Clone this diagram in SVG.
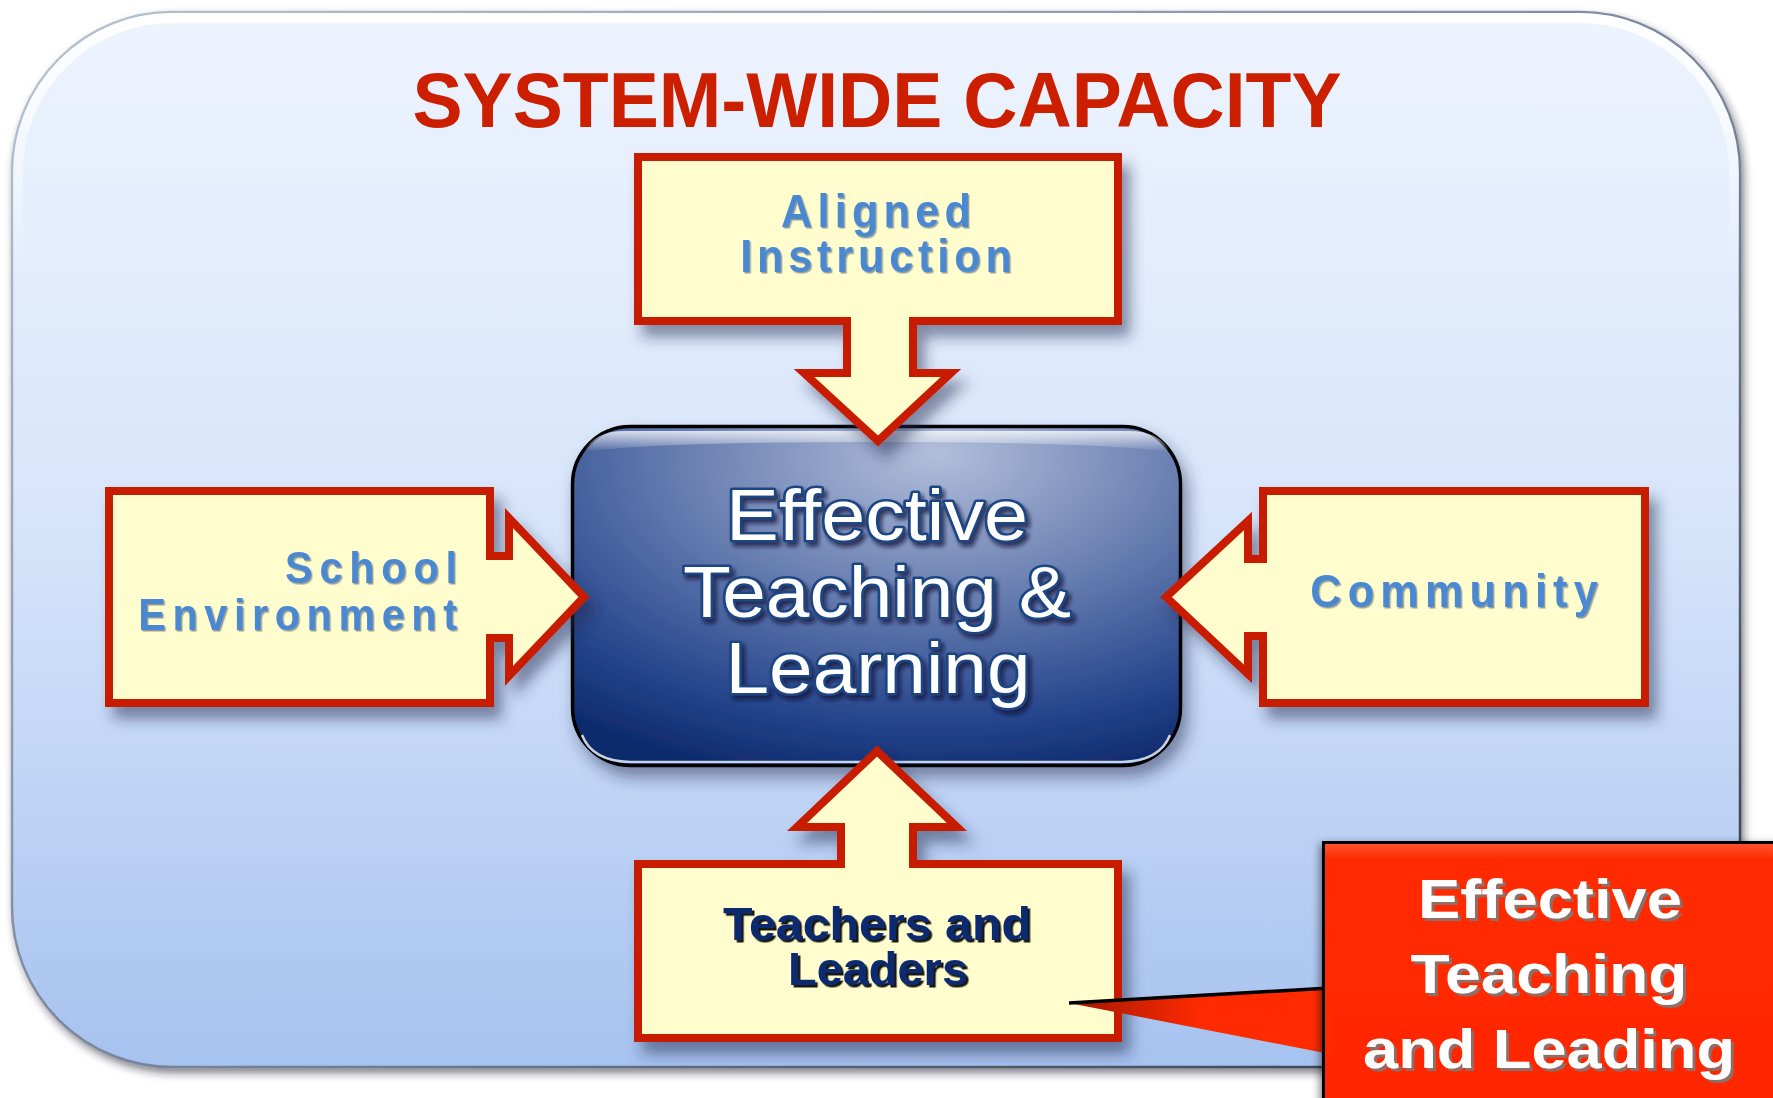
<svg xmlns="http://www.w3.org/2000/svg" width="1773" height="1098" viewBox="0 0 1773 1098">
<defs>
  <linearGradient id="bgGrad" x1="0" y1="0" x2="0" y2="1">
    <stop offset="0" stop-color="#EEF4FE"/>
    <stop offset="0.5" stop-color="#D6E4FA"/>
    <stop offset="1" stop-color="#A6C2EF"/>
  </linearGradient>
  <linearGradient id="hiGrad" x1="0" y1="0" x2="0" y2="1">
    <stop offset="0" stop-color="#FFFFFF" stop-opacity="1"/>
    <stop offset="0.25" stop-color="#FFFFFF" stop-opacity="0"/>
    <stop offset="1" stop-color="#FFFFFF" stop-opacity="0"/>
  </linearGradient>
  <linearGradient id="edgeGrad" x1="0" y1="0" x2="1" y2="1">
    <stop offset="0" stop-color="#B8C2D2"/>
    <stop offset="0.6" stop-color="#6F7C93"/>
    <stop offset="1" stop-color="#2E3440"/>
  </linearGradient>
  <radialGradient id="centerGrad" cx="0.58" cy="0.12" r="0.95" fx="0.6" fy="0.08">
    <stop offset="0" stop-color="#B2BEDA"/>
    <stop offset="0.42" stop-color="#6A80B2"/>
    <stop offset="0.82" stop-color="#22428A"/>
    <stop offset="1" stop-color="#0E2A6C"/>
  </radialGradient>
  <linearGradient id="glossGrad" x1="0" y1="0" x2="0" y2="1">
    <stop offset="0" stop-color="#FFFFFF" stop-opacity="0.9"/>
    <stop offset="1" stop-color="#FFFFFF" stop-opacity="0"/>
  </linearGradient>
  <linearGradient id="redGrad" x1="0" y1="0" x2="0" y2="1">
    <stop offset="0" stop-color="#FF5533"/>
    <stop offset="0.06" stop-color="#FF2C00"/>
    <stop offset="1" stop-color="#FF2600"/>
  </linearGradient>
  <linearGradient id="ptrGrad" x1="0" y1="0" x2="1" y2="0">
    <stop offset="0" stop-color="#A01600"/>
    <stop offset="0.5" stop-color="#FF2A00"/>
    <stop offset="1" stop-color="#FF2A00"/>
  </linearGradient>
  <filter id="outerShadow" x="-5%" y="-5%" width="110%" height="112%">
    <feDropShadow dx="3" dy="5" stdDeviation="4" flood-color="#1A2233" flood-opacity="0.55"/>
  </filter>
  <filter id="boxShadow" x="-10%" y="-10%" width="130%" height="135%">
    <feDropShadow dx="8" dy="12" stdDeviation="7" flood-color="#1C2A4E" flood-opacity="0.5"/>
  </filter>
  <filter id="centerShadow" x="-10%" y="-10%" width="130%" height="130%">
    <feDropShadow dx="6" dy="10" stdDeviation="8" flood-color="#1C2A4E" flood-opacity="0.5"/>
  </filter>
  <filter id="blueTxt" x="-5%" y="-20%" width="110%" height="140%">
    <feDropShadow dx="1.5" dy="1.5" stdDeviation="0.6" flood-color="#2A3A55" flood-opacity="0.5"/>
  </filter>
  <filter id="whiteTxt" x="-5%" y="-20%" width="115%" height="140%">
    <feDropShadow dx="3" dy="4" stdDeviation="2" flood-color="#081838" flood-opacity="0.75"/>
  </filter>
  <filter id="navyTxt" x="-5%" y="-20%" width="110%" height="140%">
    <feDropShadow dx="2.5" dy="2.5" stdDeviation="0.3" flood-color="#000000" flood-opacity="0.9"/>
  </filter>
  <filter id="calloutTxt" x="-5%" y="-20%" width="110%" height="140%">
    <feDropShadow dx="3" dy="3" stdDeviation="0.6" flood-color="#7A7A7A" flood-opacity="0.85"/>
  </filter>
  <filter id="calloutShadow" x="-10%" y="-10%" width="130%" height="130%">
    <feDropShadow dx="-2" dy="3" stdDeviation="4" flood-color="#000000" flood-opacity="0.5"/>
  </filter>
</defs>
<style>
  .box { fill: #FFFCCE; stroke: #C81E00; stroke-width: 8; stroke-linejoin: miter; stroke-miterlimit: 10; filter: url(#boxShadow); }
  .blue { font-family: "Liberation Sans", Arial, sans-serif; font-weight: bold; fill: #4C88D2; filter: url(#blueTxt); }
  .title { font-family: "Liberation Sans Narrow", "Liberation Sans", Arial, sans-serif; font-weight: bold; fill: #CC1F00; font-size: 77px; }
  .ctr { font-family: "Liberation Sans", Arial, sans-serif; font-size: 72px; fill: #FFFFFF; stroke: #1E4584; stroke-width: 5; paint-order: stroke; stroke-linejoin: round; filter: url(#whiteTxt); }
  .navy { font-family: "Liberation Sans Narrow", "Liberation Sans", Arial, sans-serif; font-weight: bold; font-size: 47px; fill: #0A2C70; filter: url(#navyTxt); }
  .call { font-family: "Liberation Sans", Arial, sans-serif; font-weight: bold; font-size: 55px; fill: #FFFFFF; filter: url(#calloutTxt); }
</style>

<g id="background">
  <rect x="12" y="12" width="1728" height="1055" rx="160" ry="160" fill="url(#bgGrad)" stroke="url(#edgeGrad)" stroke-width="2.5" filter="url(#outerShadow)"/>
  <rect x="18" y="18" width="1716" height="1043" rx="154" ry="154" fill="none" stroke="url(#hiGrad)" stroke-width="10"/>
</g>

<g id="title">
  <text class="title" x="877" y="127" text-anchor="middle" textLength="929" lengthAdjust="spacingAndGlyphs">SYSTEM-WIDE CAPACITY</text>
</g>

<g id="center">
  <rect x="572.5" y="426.5" width="608" height="339" rx="58" ry="58" fill="url(#centerGrad)" stroke="#000000" stroke-width="3.5" filter="url(#centerShadow)"/>
  <path d="M625,431 H1128 Q1160,431 1170,452 Q1100,442 876,442 Q650,442 584,452 Q594,431 625,431 Z" fill="url(#glossGrad)" opacity="0.85"/>
  <path d="M582,735 Q592,761 630,762 H1122 Q1160,761 1170,735" fill="none" stroke="#DCE5F3" stroke-width="2.5" opacity="0.9"/>
  <text class="ctr" x="877" y="540" text-anchor="middle" textLength="302" lengthAdjust="spacingAndGlyphs">Effective</text>
  <text class="ctr" x="877" y="617" text-anchor="middle" textLength="388" lengthAdjust="spacingAndGlyphs">Teaching &amp;</text>
  <text class="ctr" x="878" y="693" text-anchor="middle" textLength="305" lengthAdjust="spacingAndGlyphs">Learning</text>
</g>

<g id="aligned-instruction">
  <path class="box" d="M638,157 H1118 V321 H913 V373 H951 L878,441 L804,373 H847 V321 H638 Z"/>
  <g transform="matrix(0.94,0,0,1,52.56,0)">
    <text class="blue" x="876" y="227" font-size="46" text-anchor="middle" textLength="202" lengthAdjust="spacing">Aligned</text>
    <text class="blue" x="876" y="272" font-size="46" text-anchor="middle" textLength="289" lengthAdjust="spacing">Instruction</text>
  </g>
</g>

<g id="school-environment">
  <path class="box" d="M109,491 H490 V556 H509 V518 L584,597 L509,676 V638 H490 V703 H109 Z"/>
  <g transform="matrix(0.94,0,0,1,27.42,0)">
    <text class="blue" x="457" y="583" font-size="44" text-anchor="end" textLength="183" lengthAdjust="spacing">School</text>
    <text class="blue" x="457" y="630" font-size="44" text-anchor="end" textLength="339" lengthAdjust="spacing">Environment</text>
  </g>
</g>

<g id="community">
  <path class="box" d="M1645,491 H1263 V559 H1248 V521 L1166,597 L1248,674 V636 H1263 V703 H1645 Z"/>
  <g transform="matrix(0.94,0,0,1,87.24,0)">
    <text class="blue" x="1454" y="607" font-size="46" text-anchor="middle" textLength="306" lengthAdjust="spacing">Community</text>
  </g>
</g>

<g id="teachers-and-leaders">
  <path class="box" d="M638,1038 H1118 V864 H913 V827 H957 L877,751 L797,827 H841 V864 H638 Z"/>
  <text class="navy" x="877" y="940" text-anchor="middle" textLength="308" lengthAdjust="spacingAndGlyphs">Teachers and</text>
  <text class="navy" x="878" y="985" text-anchor="middle" textLength="180" lengthAdjust="spacingAndGlyphs">Leaders</text>
</g>

<g id="connectors">
  <path d="M1069,1003 L1330,988 L1330,1054 Z" fill="url(#ptrGrad)"/>
  <path d="M1069,1003 L1330,988" fill="none" stroke="#000000" stroke-width="3.5"/>
</g>

<g id="callout">
  <rect x="1323.5" y="842.5" width="460" height="270" fill="url(#redGrad)" stroke="#000000" stroke-width="3" filter="url(#calloutShadow)"/>
  <path d="M1330,990 V1054" stroke="#FF2A00" stroke-width="6"/>
  <text class="call" x="1550" y="918" text-anchor="middle" textLength="264" lengthAdjust="spacingAndGlyphs">Effective</text>
  <text class="call" x="1549" y="993" text-anchor="middle" textLength="277" lengthAdjust="spacingAndGlyphs">Teaching</text>
  <text class="call" x="1549" y="1068" text-anchor="middle" textLength="372" lengthAdjust="spacingAndGlyphs">and Leading</text>
</g>
</svg>
